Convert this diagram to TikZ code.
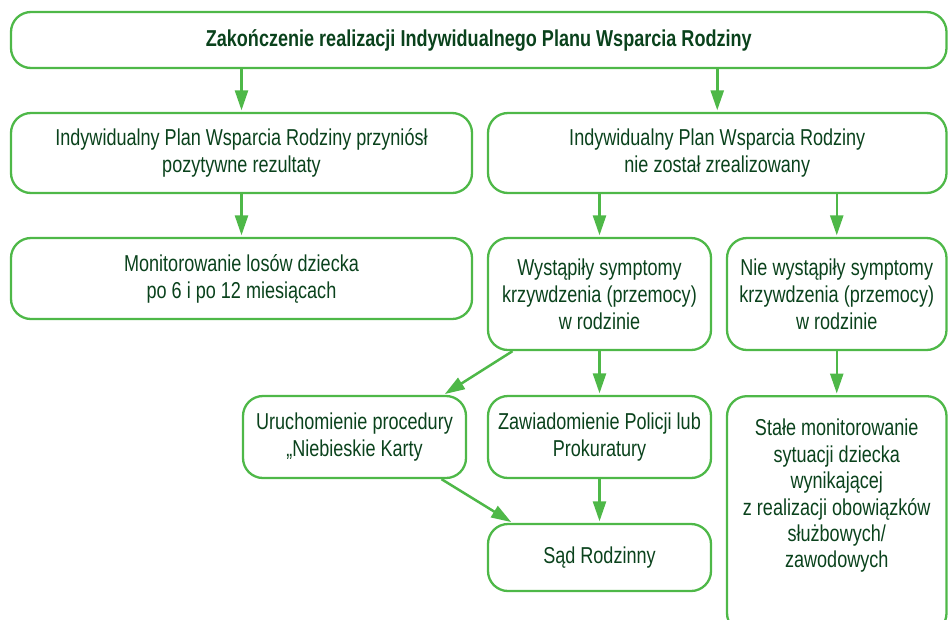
\documentclass[tikz,border=0pt]{standalone}
\usepackage{fontspec}
\setmainfont{Liberation Sans}[FakeStretch=0.785]
\usepackage{xcolor}
\usetikzlibrary{arrows.meta,calc}
\definecolor{boxgreen}{RGB}{78,184,72}
\definecolor{txtgreen}{RGB}{10,66,28}

\begin{document}
\begin{tikzpicture}[x=1pt,y=-1pt,
    box/.style={draw=boxgreen, line width=2.3pt, rounded corners=20pt, align=center,
      text=txtgreen, inner sep=0pt, font=\fontsize{23}{27}\selectfont},
    txt/.style={align=center, text=txtgreen, inner sep=0pt, font=\fontsize{23}{26.4}\selectfont},
    arr/.style={draw=boxgreen, line width=2.5pt, -{Triangle[length=20pt,width=13pt]}, shorten >=1.5pt}]
  \useasboundingbox (0,0) rectangle (949,619);
  \clip (0,0) rectangle (949,619);
  % first row
  \node[box, minimum width=935.5pt, minimum height=56pt] (top) at (478.75,40)
    {\textbf{Zakończenie realizacji Indywidualnego Planu Wsparcia Rodziny}};
  \node[box, minimum width=461pt, minimum height=80pt] (yes) at (241.5,153)
    {Indywidualny Plan Wsparcia Rodziny przyniósł\\pozytywne rezultaty};
  \node[box, minimum width=458.5pt, minimum height=80pt] (no) at (717.25,153)
    {Indywidualny Plan Wsparcia Rodziny\\nie został zrealizowany};
  % second row
  \node[box, minimum width=461pt, minimum height=81pt] (monit) at (241.5,278.5)
    {Monitorowanie losów dziecka\\po 6 i po 12 miesiącach};
  \node[box, minimum width=223pt, minimum height=112pt] (harm) at (599.5,294)
    {Wystąpiły symptomy\\krzywdzenia (przemocy)\\w rodzinie};
  \node[box, minimum width=219.5pt, minimum height=112pt] (noharm) at (836.75,294)
    {Nie wystąpiły symptomy\\krzywdzenia (przemocy)\\w rodzinie};
  % third row
  \node[box, minimum width=223pt, minimum height=82pt] (cards) at (354.5,437)
    {Uruchomienie procedury\\„Niebieskie Karty};
  \node[box, minimum width=223pt, minimum height=82pt] (police) at (599.5,437)
    {Zawiadomienie Policji lub\\Prokuratury};
  \node[box, minimum width=223pt, minimum height=67pt] (court) at (599.5,557.5)
    {Sąd Rodzinny};
  \node[box, minimum width=219.5pt, minimum height=237pt, anchor=north] (watch) at (836.75,395) {};
  \node[txt, anchor=north] (watchtxt) at ($(watch.north)+(0,24)$)
    {Stałe monitorowanie\\sytuacji dziecka\\wynikającej\\z realizacji obowiązków\\służbowych/\\zawodowych};
  % arrows
  \draw[arr] (yes.north |- top.south) -- (yes.north);
  \draw[arr] (no.north |- top.south) -- (no.north);
  \draw[arr] (yes.south) -- (monit.north);
  \draw[arr] (harm.north |- no.south) -- (harm.north);
  \draw[arr] (noharm.north |- no.south) -- (noharm.north);
  \draw[arr] ($(harm.south)+(-87,0)$) -- ($(cards.north)+(89,0)$);
  \draw[arr] (harm.south) -- (police.north);
  \draw[arr] ($(cards.south)+(87,0)$) -- ($(court.north)+(-87,0)$);
  \draw[arr] (police.south) -- (court.north);
  \draw[arr] (noharm.south) -- (watch.north);
\end{tikzpicture}
\end{document}
